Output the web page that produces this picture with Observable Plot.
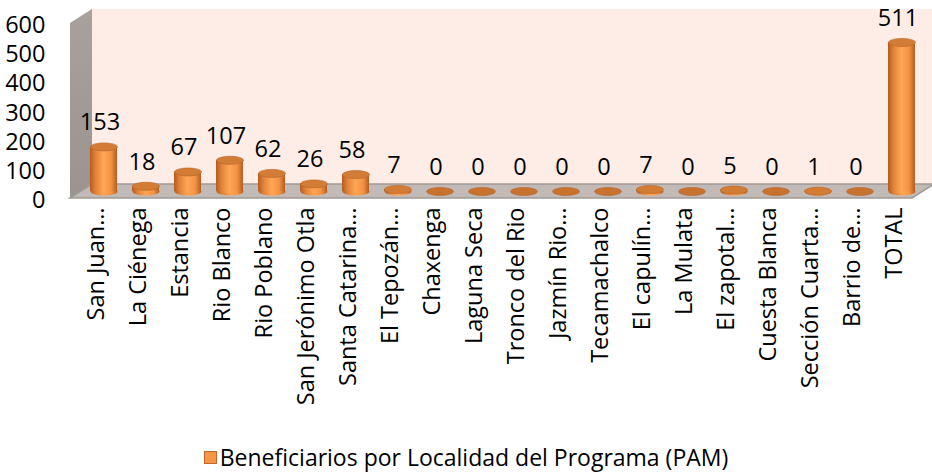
<!DOCTYPE html>
<html>
<head>
<meta charset="utf-8">
<script src="https://cdn.jsdelivr.net/npm/d3@7"></script>
<script src="https://cdn.jsdelivr.net/npm/@observablehq/plot@0.6"></script>
<style>
  html, body { margin: 0; padding: 0; background: #fff; }
  #chart { width: 932px; }
  .legend { width: 932px; height: 34px; display: flex; justify-content: center; align-items: center;
            font-family: "Open Sans", sans-serif; font-size: 23px; color: #000; }
  .legend .sw { width: 11px; height: 11px; background: #f79646; border: 1px solid #c0682a; margin-right: 3px; }
</style>
</head>
<body>
<div id="chart"></div>
<script>
const categories = ["San Juan…","La Ciénega","Estancia","Rio Blanco","Rio Poblano","San Jerónimo Otla","Santa Catarina…","El Tepozán…","Chaxenga","Laguna Seca","Tronco del Rio","Jazmín Rio…","Tecamachalco","El capulín…","La Mulata","El zapotal…","Cuesta Blanca","Sección Cuarta…","Barrio de…","TOTAL"];
const values = [153,18,67,107,62,26,58,7,0,0,0,0,0,7,0,5,0,1,0,511];
const yTicks = [0,100,200,300,400,500,600];
const seriesName = "Beneficiarios por Localidad del Programa (PAM)";

const data = categories.map((name, i) => ({name, value: values[i]}));

const W = 932, H = 440;
const DX = 22, DY = -14;      // depth of the 3D box
const BX = 11, BY = -7;       // bars sit at mid depth
const RX = 13.5, RY = 4;
const FS = 23.5;

const ellipse = {
  draw(ctx) {
    const kx = RX * 0.5523, ky = RY * 0.5523;
    ctx.moveTo(RX, 0);
    ctx.bezierCurveTo(RX, ky, kx, RY, 0, RY);
    ctx.bezierCurveTo(-kx, RY, -RX, ky, -RX, 0);
    ctx.bezierCurveTo(-RX, -ky, -kx, -RY, 0, -RY);
    ctx.bezierCurveTo(kx, -RY, RX, -ky, RX, 0);
    ctx.closePath();
  }
};

function walls(index, scales, values, dims) {
  const y = scales.y;
  const x0 = dims.marginLeft, x1 = dims.width - dims.marginRight;
  const yb = y(0), yt = y(yTicks[yTicks.length - 1]);
  const g = d3.create("svg:g");
  g.append("rect").attr("x", x0 + DX).attr("y", yt + DY).attr("width", x1 - x0).attr("height", yb - yt)
    .attr("fill", "#fdede6");
  g.append("path").attr("d", `M${x0},${yt}L${x0 + DX},${yt + DY}L${x0 + DX},${yb + DY}L${x0},${yb}Z`)
    .attr("fill", "url(#wallG)");
  g.append("path").attr("d", `M${x0},${yb}L${x0 + DX},${yb + DY}L${x1 + DX},${yb + DY}L${x1},${yb}Z`)
    .attr("fill", "#c2bab6").attr("stroke", "#a09995").attr("stroke-width", 1.5);
  return g.node();
}

const pos = data.filter(d => d.value > 0);
const zero = data.filter(d => d.value === 0);

const plot = Plot.plot({
  width: W, height: H,
  marginLeft: 70, marginRight: 20, marginTop: 23, marginBottom: H - 198,
  style: {fontFamily: "'Open Sans', sans-serif", fontSize: FS + "px", color: "#000", background: "transparent", overflow: "visible"},
  x: {domain: categories, paddingInner: 0.36, paddingOuter: 0.18, label: null},
  y: {domain: [0, 600], label: null},
  marks: [
    walls,
    Plot.axisY({ticks: yTicks, tickSize: 0, tickPadding: 25, tickFormat: d => String(d), fontSize: FS, label: null, dy: 2}),
    Plot.axisX({tickSize: 0, tickPadding: 9, tickRotate: -90, fontSize: FS, label: null, dx: 3}),
    Plot.dot(pos, {x: "name", y: 0, symbol: ellipse, fill: "url(#cylG)", dx: BX, dy: BY}),
    Plot.barY(pos, {x: "name", y: "value", fill: "url(#cylG)", dx: BX, dy: BY}),
    Plot.dot(pos, {x: "name", y: "value", symbol: ellipse, fill: "#d27c36", stroke: "#b8652a", strokeWidth: 0.6, dx: BX, dy: BY}),
    Plot.dot(zero, {x: "name", y: 0, symbol: ellipse, fill: "#c8722f", stroke: "#b0602a", strokeWidth: 0.5, dx: BX, dy: BY}),
    Plot.text(data, {x: "name", y: "value", text: d => String(d.value), dx: 7, dy: -31, fontSize: FS, fill: "#000"})
  ]
});

const defs = d3.select(plot).insert("defs", ":first-child");
const cg = defs.append("linearGradient").attr("id", "cylG").attr("x1", 0).attr("x2", 1).attr("y1", 0).attr("y2", 0);
[[0, "#b45c22"], [0.22, "#e4853a"], [0.5, "#ffa656"], [0.78, "#f39242"], [1, "#b45c22"]]
  .forEach(([o, c]) => cg.append("stop").attr("offset", o).attr("stop-color", c));
const wg = defs.append("linearGradient").attr("id", "wallG").attr("x1", 0).attr("x2", 0).attr("y1", 0).attr("y2", 1);
[[0, "#a8a19d"], [1, "#9a938f"]].forEach(([o, c]) => wg.append("stop").attr("offset", o).attr("stop-color", c));

document.getElementById("chart").appendChild(plot);

const legend = d3.select("body").append("div").attr("class", "legend");
legend.append("span").attr("class", "sw");
legend.append("span").text(seriesName);
</script>
</body>
</html>
